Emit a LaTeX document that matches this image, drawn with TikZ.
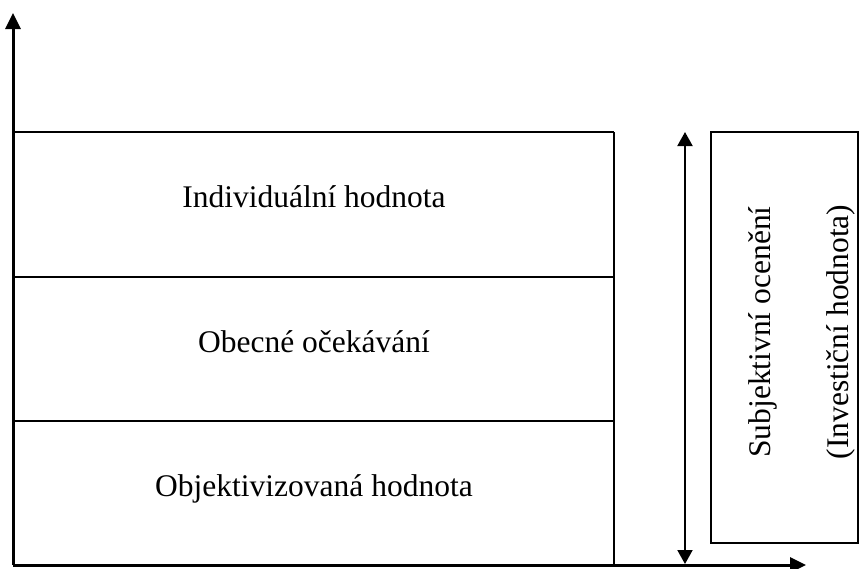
\documentclass[tikz,border=0pt]{standalone}
\usepackage{fontspec}
\setmainfont{Liberation Serif}
\usetikzlibrary{arrows.meta}
\begin{document}
\begin{tikzpicture}[x=0.5pt,y=-0.5pt,
  axis/.style={line width=1.5pt,-{Triangle[length=8pt,width=7.5pt]}},
  thin/.style={line width=1pt},
  thick box/.style={line width=1.4pt},
  dbl/.style={line width=1pt,{Triangle[length=7pt,width=7.5pt]}-{Triangle[length=7pt,width=7.5pt]}},
  lbl/.style={font=\fontsize{15.75pt}{18pt}\selectfont,inner sep=0pt,anchor=base},
  rlbl/.style={font=\fontsize{15.75pt}{18pt}\selectfont,inner sep=0pt,anchor=base,rotate=90}]
\useasboundingbox (0,0) rectangle (859,569);
% axes
\coordinate (O) at (13,565);
\coordinate (Ytip) at (13,13);
\coordinate (Xtip) at (806,565);
\draw[axis] (O) -- (Ytip);
\draw[axis] (O) -- (Xtip);
% stacked boxes
\coordinate (TL) at (13,132);
\coordinate (TR) at (614,132);
\coordinate (BR) at (614,565);
\coordinate (L1) at (13,277);
\coordinate (R1) at (614,277);
\coordinate (L2) at (13,421);
\coordinate (R2) at (614,421);
\draw[thin] (TL) -- (TR);
\draw[thick box] (TR) -- (BR);
\draw[thin] (L1) -- (R1);
\draw[thin] (L2) -- (R2);
\node[lbl] (t1) at (314,207) {Individuální hodnota};
\node[lbl] (t2) at (314,352) {Obecné očekávání};
\node[lbl] (t3) at (314,496) {Objektivizovaná hodnota};
% double arrow
\coordinate (Atop) at (685,132);
\coordinate (Abot) at (685,564);
\draw[dbl] (Abot) -- (Atop);
% right box
\node[draw,line width=1pt,minimum width=147*0.5pt,minimum height=411*0.5pt,inner sep=0pt,anchor=north west] (rb) at (710,131) {};
\node[rlbl] (s1) at (770,332) {Subjektivní ocenění};
\node[rlbl] (s2) at (848,332) {(Investiční hodnota)};
\end{tikzpicture}
\end{document}
